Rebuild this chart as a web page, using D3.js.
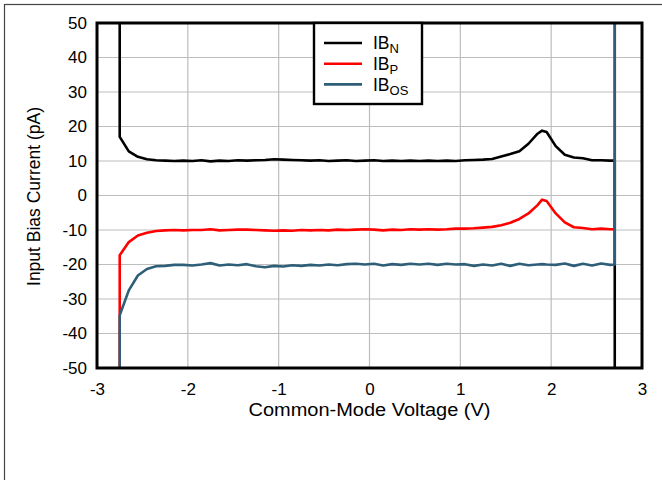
<!DOCTYPE html>
<html>
<head>
<meta charset="utf-8">
<script src="https://cdn.jsdelivr.net/npm/d3@7"></script>
<style>
  body { margin: 0; background: #fff; }
  svg { display: block; font-family: "Liberation Sans", Arial, sans-serif; }
</style>
</head>
<body>
<script>
// common-mode voltage (V); first and last values repeated for the rail drop-offs
const volts = [-2.75,
  -2.75, -2.65, -2.55, -2.45, -2.35, -2.25, -2.15, -2.05, -1.95, -1.85,
  -1.75, -1.65, -1.55, -1.45, -1.35, -1.25, -1.15, -1.05, -0.95, -0.85,
  -0.75, -0.65, -0.55, -0.45, -0.35, -0.25, -0.15, -0.05, 0.05, 0.15,
  0.25, 0.35, 0.45, 0.55, 0.65, 0.75, 0.85, 0.95, 1.05, 1.15,
  1.25, 1.35, 1.45, 1.55, 1.65, 1.75, 1.85, 1.9, 1.95, 2.05,
  2.15, 2.25, 2.35, 2.45, 2.55, 2.65, 2.7,
  2.7];

const ibN = [60,
  17, 12.8, 11.2, 10.5, 10.2, 10.1, 10.0, 10.1, 10.0, 10.2,
  9.9, 10.1, 10.0, 10.2, 10.1, 10.2, 10.3, 10.5, 10.4, 10.3,
  10.2, 10.1, 10.2, 10.0, 10.1, 10.2, 10.0, 10.1, 10.2, 10.0,
  10.1, 10.0, 10.1, 10.0, 10.1, 10.0, 10.1, 10.0, 10.2, 10.3,
  10.4, 10.6, 11.3, 12.0, 12.8, 15.0, 17.9, 18.8, 18.4, 14.3,
  11.8, 11.0, 10.8, 10.2, 10.2, 10.1, 10.1,
  -60];

const ibP = [-60,
  -17.3, -13.5, -11.6, -10.8, -10.3, -10.1, -10.0, -10.1, -10.0, -10.0,
  -9.8, -10.1, -10.0, -9.9, -9.9, -10.0, -10.1, -10.2, -10.1, -10.2,
  -10.0, -10.1, -10.0, -10.1, -9.9, -10.0, -9.9, -9.8, -9.9, -10.1,
  -9.9, -10.0, -9.8, -9.9, -9.8, -9.9, -9.8, -9.6, -9.6, -9.5,
  -9.3, -9.1, -8.6, -7.9, -6.8, -5.2, -2.8, -1.2, -1.6, -5.2,
  -7.8, -9.2, -9.4, -9.8, -9.6, -9.8, -9.8,
  60];

const ibOS = [-60,
  -34.7, -27.5, -23.2, -21.3, -20.5, -20.4, -20.1, -20.1, -20.3, -20.0,
  -19.6, -20.3, -20.0, -20.2, -19.9, -20.5, -20.8, -20.4, -20.6, -20.2,
  -20.4, -20.1, -20.3, -20.0, -20.2, -19.9, -19.8, -20.0, -19.8, -20.3,
  -19.9, -20.1, -19.8, -20.0, -19.8, -20.1, -19.8, -20.0, -19.9, -20.4,
  -20.0, -20.3, -19.8, -20.4, -19.8, -20.2, -20.0, -19.9, -20.0, -20.1,
  -19.7, -20.4, -19.8, -20.3, -19.7, -20.1, -20.0,
  60];

const xTicks = [-3, -2, -1, 0, 1, 2, 3];
const yTicks = [-50, -40, -30, -20, -10, 0, 10, 20, 30, 40, 50];

const series = [
  { name: "IB", sub: "N", values: ibN, color: "#000000" },
  { name: "IB", sub: "P", values: ibP, color: "#ff0000" },
  { name: "IB", sub: "OS", values: ibOS, color: "#2f5f78" }
];

const W = 662, H = 480;
const margin = { top: 23, right: 20, bottom: 112, left: 97 };
const width = W - margin.left - margin.right,
  height = H - margin.top - margin.bottom;
const fontSize = 17;

const svg = d3.select("body").append("svg")
  .attr("width", W)
  .attr("height", H);

// outer page frame
svg.append("rect")
  .attr("x", 4.5).attr("y", 4.5)
  .attr("width", W + 20).attr("height", H + 20)
  .attr("fill", "none")
  .attr("stroke", "#444")
  .attr("stroke-width", 1.2);

const g = svg.append("g")
  .attr("transform", `translate(${margin.left},${margin.top})`);

const x = d3.scaleLinear().domain([-3, 3]).range([0, width]);
const y = d3.scaleLinear().domain([-50, 50]).range([height, 0]);

// grid
g.append("g")
  .selectAll("line")
  .data(xTicks)
  .join("line")
  .attr("x1", (d) => x(d)).attr("x2", (d) => x(d))
  .attr("y1", 0).attr("y2", height)
  .attr("stroke", "#bdbdbd").attr("stroke-width", 1.2);

g.append("g")
  .selectAll("line")
  .data(yTicks)
  .join("line")
  .attr("x1", 0).attr("x2", width)
  .attr("y1", (d) => y(d)).attr("y2", (d) => y(d))
  .attr("stroke", "#bdbdbd").attr("stroke-width", 1.2);

// axes (labels only), plain hyphen for minus like the original
const xAxis = g.append("g")
  .attr("transform", `translate(0,${height})`)
  .call(d3.axisBottom(x).tickValues(xTicks).tickSize(0).tickPadding(15)
    .tickFormat((d) => String(d)));
const yAxis = g.append("g")
  .call(d3.axisLeft(y).tickValues(yTicks).tickSize(0).tickPadding(10)
    .tickFormat((d) => String(d)));
[xAxis, yAxis].forEach((a) => {
  a.select(".domain").remove();
  a.selectAll("text")
    .attr("font-family", "Liberation Sans, Arial, sans-serif")
    .attr("font-size", fontSize)
    .attr("fill", "#000");
});

// series
g.append("defs").append("clipPath").attr("id", "clip")
  .append("rect").attr("width", width).attr("height", height);

const line = d3.line()
  .x((d, i) => x(volts[i]))
  .y((d) => y(d));

g.append("g")
  .attr("clip-path", "url(#clip)")
  .selectAll("path")
  .data(series)
  .join("path")
  .attr("d", (s) => line(s.values))
  .attr("fill", "none")
  .attr("stroke", (s) => s.color)
  .attr("stroke-width", 2.6)
  .attr("stroke-linejoin", "round");

// plot frame
g.append("rect")
  .attr("width", width).attr("height", height)
  .attr("fill", "none")
  .attr("stroke", "#000")
  .attr("stroke-width", 3);

// legend
const legend = g.append("g")
  .attr("transform", "translate(217,0)");
legend.append("rect")
  .attr("width", 108).attr("height", 81)
  .attr("fill", "#fff")
  .attr("stroke", "#000")
  .attr("stroke-width", 2.4);
const item = legend.selectAll("g.item")
  .data(series)
  .join("g")
  .attr("class", "item")
  .attr("transform", (d, i) => `translate(0,${20 + i * 20.7})`);
item.append("line")
  .attr("x1", 10).attr("x2", 48)
  .attr("stroke", (d) => d.color)
  .attr("stroke-width", 2.6);
const lt = item.append("text")
  .attr("x", 59).attr("dy", "0.35em")
  .attr("font-size", 17.5)
  .attr("fill", "#000");
lt.append("tspan").text((d) => d.name);
lt.append("tspan").attr("dy", 4).attr("font-size", 13).text((d) => d.sub);

// axis titles
svg.append("text")
  .attr("x", margin.left + width / 2)
  .attr("y", 416)
  .attr("text-anchor", "middle")
  .attr("font-size", 17.5)
  .attr("textLength", 242)
  .attr("lengthAdjust", "spacingAndGlyphs")
  .text("Common-Mode Voltage (V)");

svg.append("text")
  .attr("transform", `translate(40,${margin.top + height / 2 + 1}) rotate(-90)`)
  .attr("text-anchor", "middle")
  .attr("font-size", 17.5)
  .text("Input Bias Current (pA)");
</script>
</body>
</html>
